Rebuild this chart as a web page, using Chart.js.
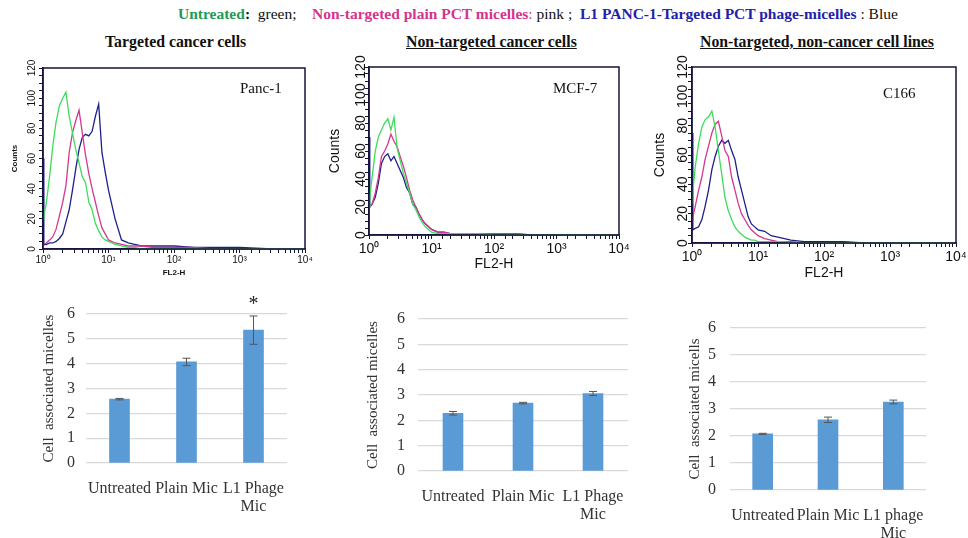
<!DOCTYPE html>
<html>
<head>
<meta charset="utf-8">
<script src="https://cdn.jsdelivr.net/npm/chart.js@4.4.1/dist/chart.umd.min.js"></script>
<style>
  body { margin: 0; background: #fff; width: 968px; height: 538px; position: relative; overflow: hidden;
         font-family: "Liberation Serif", "Times New Roman", serif; color: #111; }
  canvas { position: absolute; }
  .txt { position: absolute; white-space: pre; }
  #key { left: 178px; top: 4px; font-size: 15.5px; line-height: 19px; }
  .head { top: 32px; font-size: 15.8px; font-weight: bold; line-height: 19px; }
  .head.u { text-decoration: underline; }
  .cell { font-size: 15px; line-height: 18px; }
</style>
</head>
<body>
<div id="key" class="txt"><b style="color:#229a55">Untreated</b><b>:</b>  green;    <b style="color:#d6338a">Non-targeted plain PCT micelles</b><span style="color:#d6338a">:</span> pink ;  <b style="color:#1f22a8">L1 PANC-1-Targeted PCT phage-micelles</b> : Blue</div>
<div class="txt head" style="left:105px">Targeted cancer cells</div>
<div class="txt head u" style="left:406px">Non-targeted cancer cells</div>
<div class="txt head u" style="left:700px">Non-targeted, non-cancer cell lines</div>

<canvas id="histPanc" width="322" height="232" style="left:0px;top:48px"></canvas>
<canvas id="histMcf" width="318" height="227" style="left:318px;top:48px"></canvas>
<canvas id="histC166" width="324" height="236" style="left:644px;top:48px"></canvas>
<canvas id="barPanc" width="295" height="223" style="left:0px;top:290px"></canvas>
<canvas id="barMcf" width="305" height="231" style="left:330px;top:295px"></canvas>
<canvas id="barC166" width="280" height="234" style="left:655px;top:304px"></canvas>

<div class="txt cell" style="left:240px;top:79px">Panc-1</div>
<div class="txt cell" style="left:553px;top:79px">MCF-7</div>
<div class="txt cell" style="left:883px;top:84px">C166</div>

<script>
// FL2-H channels sampled for every histogram
const channels = [1, 1.03, 1.12, 1.26, 1.41, 1.58, 1.78, 2.0, 2.24, 2.51, 2.82, 3.16, 3.55, 3.98, 4.47, 5.01,
                  5.62, 6.31, 7.08, 7.94, 8.91, 10, 12.6, 15.8, 20, 25.1, 31.6, 50.1, 100, 200, 398, 1000, 3162, 10000];
const decadeLabels = {1: '10⁰', 10: '10¹', 100: '10²', 1000: '10³', 10000: '10⁴'};

// counts per channel: untreated (green), plain micelles (pink), L1 phage-micelles (blue)
const pancUntreated = [20, 22, 30, 48, 68, 84, 95, 100, 104, 88, 77, 66, 57, 48, 44, 31, 26, 17, 12, 8, 6, 5, 3, 2, 1, 1, 0, 0, 0, 0, 0, 0, 0, 0];
const pancPlain     = [3, 3, 4, 6, 8, 13, 22, 31, 42, 64, 77, 85, 92, 77, 62, 50, 40, 31, 22, 14, 10, 6, 4, 3, 2, 2, 2, 1, 1, 1, 0, 0, 0, 0];
const pancPhage     = [60, 3, 3, 4, 4, 5, 7, 10, 18, 26, 39, 53, 66, 74, 76, 75, 78, 88, 96, 64, 51, 39, 20, 6, 4, 3, 2, 2, 2, 1, 1, 1, 0, 0];

const mcfUntreated = [20, 28, 41, 60, 70, 75, 80, 83, 75, 84, 62, 53, 44, 37, 30, 22, 18, 13, 9, 6, 4, 2, 1, 1, 1, 1, 1, 1, 0, 0, 0, 0, 0, 0];
const mcfPlain     = [20, 21, 22, 30, 41, 56, 60, 65, 72, 67, 63, 56, 49, 41, 32, 25, 20, 15, 11, 8, 6, 4, 2, 2, 1, 1, 1, 1, 1, 1, 0, 0, 0, 0];
const mcfPhage     = [70, 20, 22, 27, 37, 51, 56, 58, 53, 56, 51, 46, 41, 34, 30, 22, 20, 15, 11, 8, 6, 4, 2, 2, 1, 1, 1, 1, 1, 1, 0, 0, 0, 0];

const c166Untreated = [27, 35, 52, 68, 79, 84, 86, 90, 79, 63, 47, 31, 22, 16, 11, 8, 6, 4, 3, 2, 2, 1, 1, 1, 1, 1, 0, 0, 0, 0, 0, 0, 0, 0];
const c166Plain     = [16, 18, 25, 36, 45, 57, 66, 75, 81, 83, 73, 63, 59, 45, 36, 27, 20, 16, 12, 9, 7, 5, 3, 2, 1, 1, 1, 0, 0, 0, 0, 0, 0, 0];
const c166Phage     = [75, 9, 10, 11, 16, 25, 36, 50, 59, 66, 70, 68, 70, 63, 57, 45, 36, 27, 18, 13, 11, 9, 8, 5, 4, 3, 2, 1, 1, 1, 0, 0, 0, 0];

// cell associated micelles (mean and error) per treatment
const groups = [['Untreated'], ['Plain Mic'], ['L1 Phage', 'Mic']];
const groupsC166 = [['Untreated'], ['Plain Mic'], ['L1 phage', 'Mic']];
const pancMean = [2.57, 4.07, 5.35];
const pancErr = [0.03, 0.15, 0.57];
const pancSig = ['', '', '*'];
const mcfMean = [2.28, 2.68, 3.06];
const mcfErr = [0.07, 0.03, 0.08];
const c166Mean = [2.08, 2.6, 3.26];
const c166Err = [0.02, 0.1, 0.07];

const traceColors = ['#3fdc5c', '#d4378f', '#1f1f8c'];
const axisColor = '#14143c';
const barBlue = '#5b9bd5';
const serif = '"Liberation Serif", "Times New Roman", serif';
const sans = '"Liberation Sans", Arial, sans-serif';

// box round the histogram plot area
const frame = {
    id: 'frame',
    afterDraw: function (chart) {
        const a = chart.chartArea;
        const ctx = chart.ctx;
        ctx.save();
        ctx.strokeStyle = axisColor;
        ctx.lineWidth = 1.5;
        ctx.strokeRect(a.left, a.top, a.right - a.left, a.bottom - a.top);
        ctx.restore();
    }
};

// error bars and significance marks on the bar charts
const errorBars = {
    id: 'errorBars',
    afterDatasetsDraw: function (chart) {
        const ds = chart.data.datasets[0];
        const meta = chart.getDatasetMeta(0);
        const y = chart.scales.y;
        const ctx = chart.ctx;
        ctx.save();
        ctx.strokeStyle = '#555';
        ctx.lineWidth = 1;
        meta.data.forEach(function (bar, i) {
            const hi = y.getPixelForValue(ds.data[i] + ds.errors[i]);
            const lo = y.getPixelForValue(ds.data[i] - ds.errors[i]);
            ctx.beginPath();
            ctx.moveTo(bar.x, hi); ctx.lineTo(bar.x, lo);
            ctx.moveTo(bar.x - 4, hi); ctx.lineTo(bar.x + 4, hi);
            ctx.moveTo(bar.x - 4, lo); ctx.lineTo(bar.x + 4, lo);
            ctx.stroke();
            if (ds.marks && ds.marks[i]) {
                ctx.fillStyle = '#222';
                ctx.font = '20px ' + serif;
                ctx.textAlign = 'center';
                ctx.textBaseline = 'alphabetic';
                ctx.fillText(ds.marks[i], bar.x, hi - 6);
            }
        });
        ctx.restore();
    }
};

function histogram(id, series, o) {
    new Chart(document.getElementById(id), {
        type: 'line',
        data: {
            datasets: series.map(function (counts, k) {
                return {
                    data: channels.map(function (x, i) { return {x: x, y: counts[i]}; }),
                    borderColor: traceColors[k],
                    borderWidth: 1.3,
                    pointRadius: 0,
                    tension: 0,
                    fill: false
                };
            })
        },
        options: {
            responsive: false,
            animation: false,
            events: [],
            layout: {padding: o.pad},
            plugins: {legend: {display: false}, tooltip: {enabled: false}},
            scales: {
                x: {
                    type: 'logarithmic',
                    min: 1,
                    max: 10000,
                    grid: {drawOnChartArea: false, tickLength: 4, color: axisColor},
                    border: {color: axisColor, width: 1.5},
                    ticks: {
                        autoSkip: false, minRotation: 0, maxRotation: 0, padding: o.xPad,
                        color: '#111', font: {family: sans, size: o.tick},
                        callback: function (v) { return decadeLabels[v] || ''; }
                    },
                    title: {display: true, text: 'FL2-H', color: '#111',
                            font: {family: sans, size: o.title, weight: o.weight}, padding: {top: 0, bottom: o.titleGap}},
                    afterFit: function (s) { s.height = o.xHeight; s.paddingLeft = 0; s.paddingRight = 0; }
                },
                y: {
                    min: 0,
                    max: 120,
                    grid: {drawOnChartArea: false, tickLength: 4, color: axisColor},
                    border: {color: axisColor, width: 1.5},
                    ticks: {
                        stepSize: 5, maxTicksLimit: 30, autoSkip: false,
                        minRotation: 90, maxRotation: 90, crossAlign: 'center', padding: o.yPad,
                        color: '#111', font: {family: sans, size: o.tick},
                        callback: function (v) { return v % 20 === 0 ? String(v) : ''; }
                    },
                    title: {display: true, text: 'Counts', color: '#111',
                            font: {family: sans, size: o.title, weight: o.weight}, padding: {top: 4, bottom: 0}},
                    afterFit: function (s) { s.width = o.yWidth; s.paddingTop = 0; s.paddingBottom = 0; }
                }
            }
        },
        plugins: [frame]
    });
}

function barChart(id, labels, means, errs, marks, yTitle, o) {
    new Chart(document.getElementById(id), {
        type: 'bar',
        data: {
            labels: labels,
            datasets: [{
                data: means,
                errors: errs,
                marks: marks,
                backgroundColor: barBlue,
                barThickness: 20
            }]
        },
        options: {
            responsive: false,
            animation: false,
            events: [],
            layout: {padding: o.pad},
            plugins: {legend: {display: false}, tooltip: {enabled: false}},
            scales: {
                x: {
                    grid: {display: false},
                    border: {display: false},
                    ticks: {maxRotation: 0, autoSkip: false, padding: 9, color: '#333',
                            font: {family: serif, size: 16, lineHeight: 1.1}},
                    afterFit: function (s) { s.height = o.xHeight; s.paddingLeft = 0; s.paddingRight = 0; }
                },
                y: {
                    min: 0,
                    max: 6,
                    grid: {color: '#d9d9d9', drawTicks: false, lineWidth: 1.2},
                    border: {display: false},
                    ticks: {stepSize: 1, padding: o.yPad, color: '#333', font: {family: serif, size: 16}},
                    title: {display: true, text: yTitle, color: '#333',
                            font: {family: serif, size: 15}, padding: {top: 4, bottom: 4}},
                    afterFit: function (s) { s.width = o.yWidth; s.paddingTop = 0; s.paddingBottom = 0; }
                }
            }
        },
        plugins: [errorBars]
    });
}

histogram('histPanc', [pancUntreated, pancPlain, pancPhage], {
    pad: {left: 6, top: 20, right: 17, bottom: 0}, yWidth: 37, xHeight: 31,
    tick: 10, title: 8, weight: 'bold', xPad: 1, yPad: -2, titleGap: 2
});
histogram('histMcf', [mcfUntreated, mcfPlain, mcfPhage], {
    pad: {left: 5, top: 19, right: 17, bottom: 0}, yWidth: 46, xHeight: 40,
    tick: 14, title: 14, weight: 'normal', xPad: 2, yPad: -8, titleGap: 2
});
histogram('histC166', [c166Untreated, c166Plain, c166Phage], {
    pad: {left: 4, top: 19, right: 12, bottom: 0}, yWidth: 44, xHeight: 41,
    tick: 14, title: 14, weight: 'normal', xPad: 2, yPad: -7, titleGap: 2
});

barChart('barPanc', groups, pancMean, pancErr, pancSig, 'Cell  associated micelles', {
    pad: {left: 36, top: 24, right: 8, bottom: 0}, yWidth: 50, xHeight: 50, yPad: 11
});
barChart('barMcf', groups, mcfMean, mcfErr, null, 'Cell  associated micelles', {
    pad: {left: 30, top: 24, right: 7, bottom: 0}, yWidth: 58, xHeight: 55, yPad: 13
});
barChart('barC166', groupsC166, c166Mean, c166Err, null, 'Cell  associated micells', {
    pad: {left: 27, top: 24, right: 9, bottom: 0}, yWidth: 48, xHeight: 48, yPad: 14
});
</script>
</body>
</html>
